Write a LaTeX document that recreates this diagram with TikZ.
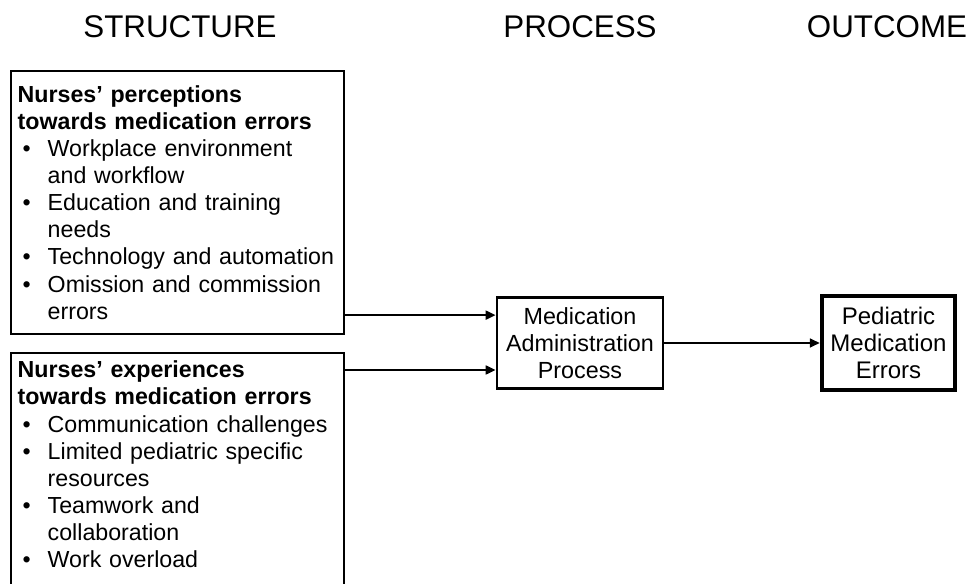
\documentclass[tikz,border=0pt]{standalone}
\usepackage{fontspec}
\setmainfont{Liberation Sans}
\usetikzlibrary{arrows.meta}
\newcommand{\bitem}[1]{\par\hangindent=22.5pt\hangafter=1\noindent\makebox[22.5pt][l]{\hspace{3.75pt}\textbullet}#1}
\newcommand{\nohy}{\hyphenpenalty=10000 \exhyphenpenalty=10000 }
\tikzset{
  hdr/.style={font=\fontsize{23.5}{26}\selectfont, anchor=base},
  listbox/.style={draw, line width=1.6pt, anchor=north west, text width=239.5pt, align=left,
    inner xsep=5pt, font=\fontsize{17.4}{20.3}\selectfont, execute at begin node=\nohy},
  procbox/.style={draw, line width=1.9pt, align=center, minimum width=124.5pt, minimum height=68pt,
    inner sep=0pt, font=\fontsize{17.5}{20.5}\selectfont},
  outbox/.style={draw, line width=3.2pt, align=center, minimum width=99.75pt, minimum height=71pt,
    inner sep=0pt, font=\fontsize{18}{20.5}\selectfont},
  arr/.style={line width=1.9pt, -{Triangle[length=7.5pt,width=6.5pt]}}
}
\begin{document}
\begin{tikzpicture}[x=0.75pt,y=-0.75pt]
\clip (0,0) rectangle (972,584);
\useasboundingbox (0,0) rectangle (972,584);
\fill[white] (0,0) rectangle (972,584);

\node[hdr] (hs) at (180,38) {STRUCTURE};
\node[hdr] (hp) at (580,38) {PROCESS};
\node[hdr] (ho) at (887,38) {OUTCOME};

\node[listbox, minimum height=197.25pt, inner ysep=3pt] (perc) at (10,70) {%
\textbf{Nurses’ perceptions\\towards medication errors}
\bitem{Workplace environment\newline and workflow}
\bitem{Education and training\newline needs}
\bitem{Technology and automation}
\bitem{Omission and commission\newline errors}\par};

\node[listbox, inner ysep=6pt] (exp) at (10,352) {%
\textbf{Nurses’ experiences\\towards medication errors}
\bitem{Communication challenges}
\bitem{Limited pediatric specific\newline resources}
\bitem{Teamwork and\newline collaboration}
\bitem{Work overload}\par\rule{0pt}{30pt}};

\node[procbox] (proc) at (580,343) {Medication\\Administration\\Process};
\node[outbox] (out) at (888.5,343) {Pediatric\\Medication\\Errors};

\coordinate (a1) at ([yshift=15pt]perc.south east);
\coordinate (a2) at ([yshift=-13.5pt]exp.north east);
\draw[arr] (a1) -- (a1 -| proc.west);
\draw[arr] (a2) -- (a2 -| proc.west);
\draw[arr] (proc.east) -- (out.west);
\end{tikzpicture}
\end{document}
